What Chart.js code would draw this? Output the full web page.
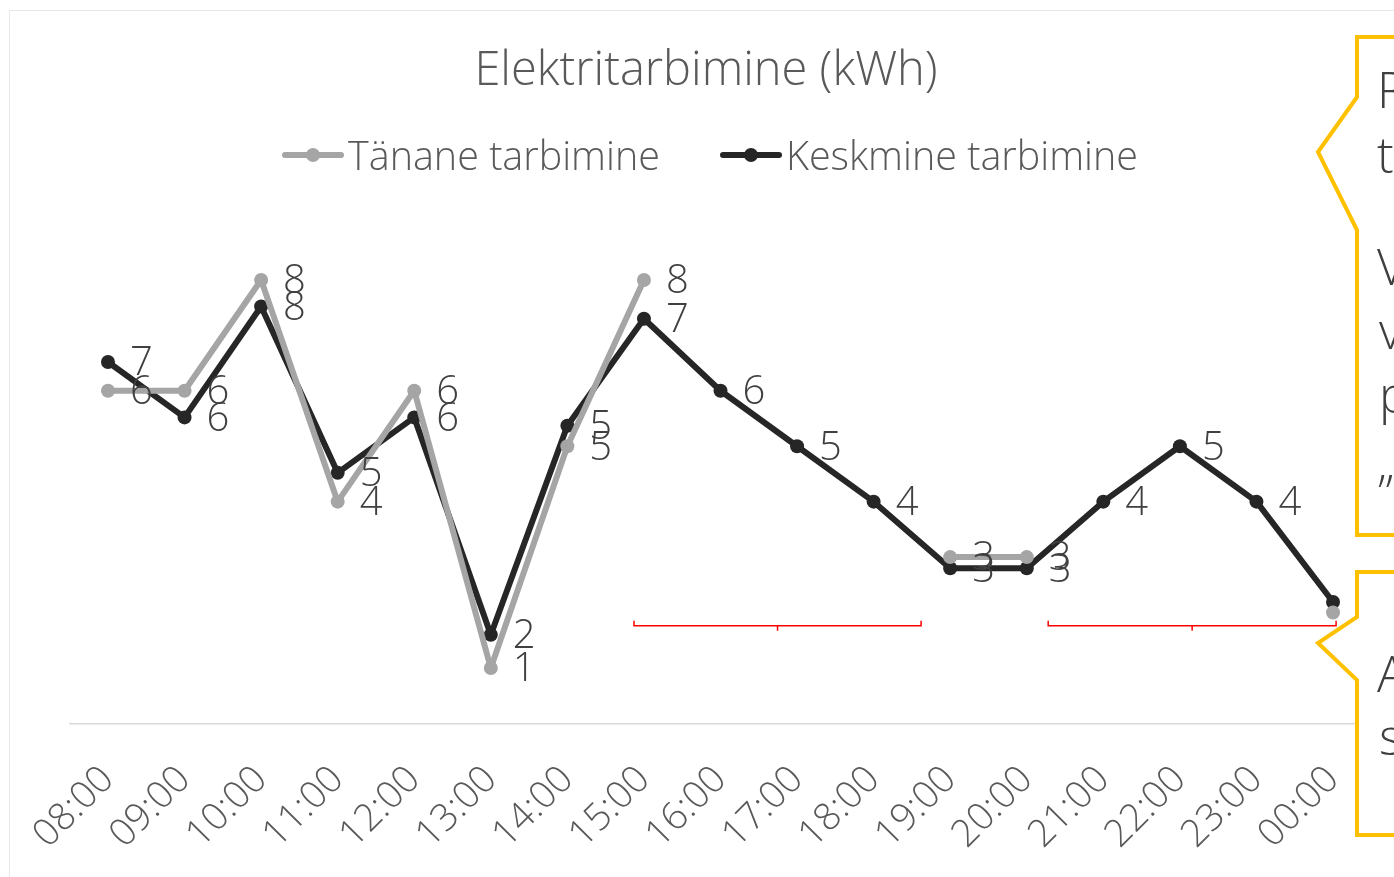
<!DOCTYPE html>
<html>
<head>
<meta charset="utf-8">
<script src="https://cdn.jsdelivr.net/npm/chart.js@4.4.1/dist/chart.umd.min.js"></script>
<style>
  html, body { margin: 0; padding: 0; background: #fff; width: 1394px; height: 877px; overflow: hidden; }
  #frame { position: absolute; left: 9px; top: 10px; width: 1440px; height: 920px; border: 1px solid #E8E8E8; box-sizing: border-box; }
  #wrap { position: absolute; left: 9px; top: 10px; width: 1394px; height: 866px; }
  #legend { position: absolute; left: 0; top: 131px; width: 1420px; display: flex; justify-content: center; gap: 60px;
            font-family: "Open Sans", "Noto Sans", sans-serif; font-weight: 300; font-size: 39.5px; line-height: 48px; color: #595959; }
  .item { display: flex; align-items: center; white-space: nowrap; }
  .mark { position: relative; width: 62px; height: 14px; margin-right: 4px; }
  .mark::before { content: ""; position: absolute; left: 0; right: 0; top: 4px; height: 6px; border-radius: 3px; background: var(--c); }
  .mark::after { content: ""; position: absolute; left: 24px; top: 0; width: 14px; height: 14px; border-radius: 50%; background: var(--c); }
  #notes { position: absolute; left: 0; top: 0; }
  #notes text { font-family: "Open Sans", "Noto Sans", sans-serif; font-weight: 300; font-size: 50px; fill: #404040; }
</style>
</head>
<body>
<div id="frame"></div>
<div id="wrap"><canvas id="chart" width="1394" height="866"></canvas></div>
<div id="legend"></div>
<svg id="notes" width="1394" height="877">
  <path d="M1357,37 H1420 V535 H1357 V230 L1318,152 L1357,97 Z" fill="#fff" stroke="#FFC000" stroke-width="4"/>
  <text x="1377" y="108">R</text>
  <text x="1377" y="173">t</text>
  <text x="1377" y="285">V</text>
  <text x="1379" y="349">v</text>
  <text x="1379" y="413">p</text>
  <text x="1377" y="481">„</text>
  <path d="M1357,572 H1420 V835 H1357 V680 L1318,643 L1357,617 Z" fill="#fff" stroke="#FFC000" stroke-width="4"/>
  <text x="1377" y="692">A</text>
  <text x="1379" y="755">s</text>
</svg>
<script>
// Hourly electricity use, kWh
const hours = ['08:00', '09:00', '10:00', '11:00', '12:00', '13:00', '14:00', '15:00', '16:00',
               '17:00', '18:00', '19:00', '20:00', '21:00', '22:00', '23:00', '00:00'];
const todayKwh   = [6, 6, 8, 4, 6, 1, 5, 8, null, null, null, 3, 3, null, null, null, 2];
const averageKwh = [6.52, 5.52, 7.52, 4.52, 5.52, 1.6, 5.37, 7.3, 6, 5, 4, 2.8, 2.8, 4, 5, 4, 2.19];
const seriesNames = ['Tänane tarbimine', 'Keskmine tarbimine'];
const seriesColors = ['#A5A5A5', '#262626'];
// Red range markers under the line: [from index, to index, level in kWh]
const ranges = [[6.87, 10.62, 1.76], [12.28, 16.04, 1.76]];

const FONT = '"Open Sans", "Noto Sans", sans-serif';

// HTML legend
const legendEl = document.getElementById('legend');
seriesNames.forEach((name, i) => {
  const item = document.createElement('div');
  item.className = 'item';
  const mark = document.createElement('span');
  mark.className = 'mark';
  mark.style.setProperty('--c', seriesColors[i]);
  const label = document.createElement('span');
  label.textContent = name;
  item.appendChild(mark);
  item.appendChild(label);
  legendEl.appendChild(item);
});

// Rounded value labels to the right of each point (skipped if they would leave the plot)
const valueLabels = {
  id: 'valueLabels',
  afterDatasetsDraw(chart) {
    const ctx = chart.ctx;
    ctx.save();
    ctx.font = '300 40px ' + FONT;
    ctx.fillStyle = '#404040';
    ctx.textAlign = 'left';
    ctx.textBaseline = 'middle';
    chart.data.datasets.forEach((ds, i) => {
      const meta = chart.getDatasetMeta(i);
      meta.data.forEach((pt, j) => {
        const v = ds.data[j];
        if (v === null || v === undefined) return;
        const txt = String(Math.round(v));
        const lx = pt.x + 22;
        if (lx + ctx.measureText(txt).width > chart.chartArea.right) return;
        ctx.fillText(txt, lx, pt.y + 2);
      });
    });
    ctx.restore();
  }
};

// Bracket-shaped range markers
const rangeMarks = {
  id: 'rangeMarks',
  afterDatasetsDraw(chart) {
    const {ctx, scales: {x, y}} = chart;
    ctx.save();
    ctx.strokeStyle = '#FF0000';
    ctx.lineWidth = 1.5;
    ranges.forEach(([a, b, lvl]) => {
      const x0 = x.getPixelForValue(a), x1 = x.getPixelForValue(b);
      const yy = y.getPixelForValue(lvl);
      const xm = (x0 + x1) / 2;
      ctx.beginPath();
      ctx.moveTo(x0, yy - 5); ctx.lineTo(x0, yy); ctx.lineTo(x1, yy); ctx.lineTo(x1, yy - 5);
      ctx.moveTo(xm, yy); ctx.lineTo(xm, yy + 5);
      ctx.stroke();
    });
    ctx.restore();
  }
};

const makeSet = (i, data) => ({
  label: seriesNames[i],
  data: data,
  borderColor: seriesColors[i],
  backgroundColor: seriesColors[i],
  borderWidth: 6,
  pointRadius: 7,
  pointHoverRadius: 7,
  pointBorderWidth: 0,
  borderJoinStyle: 'round',
  borderCapStyle: 'round',
  spanGaps: false,
  tension: 0
});

new Chart(document.getElementById('chart'), {
  type: 'line',
  data: {
    labels: hours,
    datasets: [makeSet(0, todayKwh), makeSet(1, averageKwh)]
  },
  options: {
    responsive: false,
    animation: false,
    devicePixelRatio: 1,
    layout: { padding: 0 },
    plugins: {
      legend: { display: false },
      tooltip: { enabled: false },
      title: {
        display: true,
        text: 'Elektritarbimine (kWh)',
        color: '#595959',
        font: { family: FONT, size: 47, weight: '300' },
        padding: { top: 33, bottom: 125.1 }
      }
    },
    scales: {
      x: {
        offset: true,
        grid: { display: false, drawTicks: false },
        border: { display: true, color: '#D9D9D9', width: 1.5 },
        ticks: {
          autoSkip: false, maxRotation: 45, minRotation: 45, padding: 34,
          color: '#595959', font: { family: FONT, size: 38, weight: '300' }
        },
        // fixed axis band and side margins for the plot
        afterFit(scale) { scale.height = 152.6; scale.paddingLeft = 60.7; scale.paddingRight = 31.7; }
      },
      y: { display: false, min: 0, max: 9 }
    }
  },
  plugins: [rangeMarks, valueLabels]
});
</script>
</body>
</html>
